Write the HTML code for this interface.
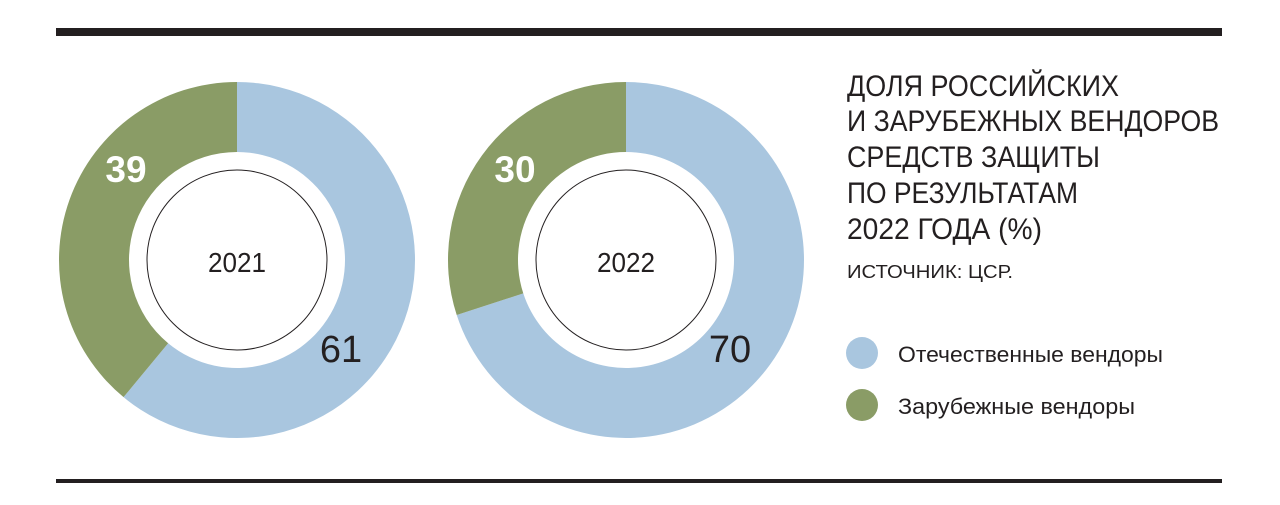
<!DOCTYPE html>
<html><head><meta charset="utf-8"><style>
html,body{margin:0;padding:0;background:#fff;width:1280px;height:505px;overflow:hidden}
svg{display:block}
text{font-family:"Liberation Sans",sans-serif}
</style></head><body>
<svg id="chart" width="1280" height="505" viewBox="0 0 1280 505" xmlns="http://www.w3.org/2000/svg">
<rect x="56" y="28" width="1166" height="8" fill="#231f20"/>
<rect x="56" y="479" width="1166" height="4" fill="#231f20"/>
<g fill="#231f20" font-size="30">
<text x="847" y="96" textLength="272" lengthAdjust="spacingAndGlyphs">ДОЛЯ РОССИЙСКИХ</text>
<text x="847" y="131" textLength="372" lengthAdjust="spacingAndGlyphs">И ЗАРУБЕЖНЫХ ВЕНДОРОВ</text>
<text x="847" y="167" textLength="253" lengthAdjust="spacingAndGlyphs">СРЕДСТВ ЗАЩИТЫ</text>
<text x="847" y="203" textLength="231" lengthAdjust="spacingAndGlyphs">ПО РЕЗУЛЬТАТАМ</text>
<text x="847" y="239" textLength="195" lengthAdjust="spacingAndGlyphs">2022 ГОДА (%)</text>
</g>
<text x="847" y="278" font-size="18" fill="#231f20" textLength="166" lengthAdjust="spacingAndGlyphs">ИСТОЧНИК: ЦСР.</text>
<g>
<circle cx="862" cy="353" r="16" fill="#a9c6df"/>
<text x="898" y="362" font-size="22" fill="#231f20" textLength="265" lengthAdjust="spacingAndGlyphs">Отечественные вендоры</text>
<circle cx="862" cy="405" r="16" fill="#8a9c66"/>
<text x="898" y="414" font-size="22" fill="#231f20" textLength="237" lengthAdjust="spacingAndGlyphs">Зарубежные вендоры</text>
</g>
<g id="donuts"></g>
</svg>
<script>
const years = ["2021", "2022"];
const domestic = [61, 70];
const foreign = [39, 30];
const centersX = [237, 626];
const CY = 260, R = 178, RI = 108, RC = 90;
const NS = "http://www.w3.org/2000/svg";
const root = document.getElementById("donuts");
function pt(a, r, cx){ return [cx + r*Math.sin(a), CY - r*Math.cos(a)]; }
function arc(cx, a0, a1){
  const big = (a1 - a0) > Math.PI ? 1 : 0;
  const p0 = pt(a0, R, cx), p1 = pt(a1, R, cx), q1 = pt(a1, RI, cx), q0 = pt(a0, RI, cx);
  return `M${p0[0]},${p0[1]} A${R},${R} 0 ${big} 1 ${p1[0]},${p1[1]} L${q1[0]},${q1[1]} A${RI},${RI} 0 ${big} 0 ${q0[0]},${q0[1]} Z`;
}
function mk(tag, attrs){ const e = document.createElementNS(NS, tag); for (const k in attrs) e.setAttribute(k, attrs[k]); return e; }
years.forEach((y, i) => {
  const cx = centersX[i];
  const tot = domestic[i] + foreign[i];
  const aD = domestic[i] / tot * 2 * Math.PI;
  const g = mk("g", {});
  
  
  const s1 = mk("path", {d: arc(cx, 0, aD), fill: "#a9c6df"});
  
  
  const s2 = mk("path", {d: arc(cx, aD, 2*Math.PI - 1e-6), fill: "#8a9c66"});
  
  
  const c = mk("circle", {cx: cx, cy: CY, r: RC, fill: "none", stroke: "#231f20", "stroke-width": 1});
  
  
  const t = mk("text", {x: cx, y: 272, "text-anchor": "middle", "font-size": 28, fill: "#231f20", textLength: 58, lengthAdjust: "spacingAndGlyphs"});
  t.textContent = y;
  
  
  const lf = mk("text", {x: cx - 111, y: 182, "text-anchor": "middle", "font-size": 37, "font-weight": "bold", fill: "#fff"});
  lf.textContent = foreign[i];
  
  
  const ld = mk("text", {x: cx + 104, y: 362, "text-anchor": "middle", "font-size": 38, fill: "#231f20"});
  ld.textContent = domestic[i];
  
  
  [s1, s2, c, t, lf, ld].forEach(e => g.appendChild(e));
  root.appendChild(g);
});
</script>
</body></html>
